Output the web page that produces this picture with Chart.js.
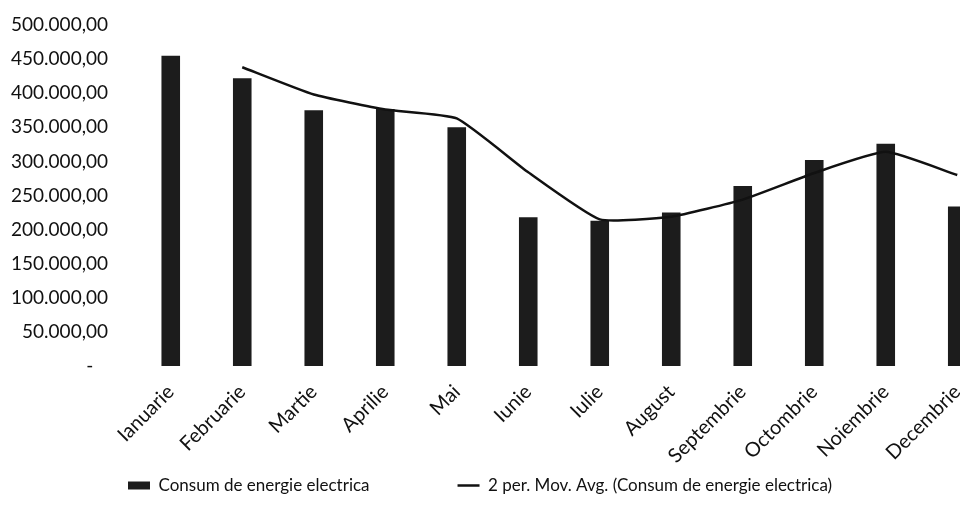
<!DOCTYPE html>
<html>
<head>
<meta charset="utf-8">
<script src="https://cdn.jsdelivr.net/npm/chart.js@4"></script>
<style>
    html, body { margin: 0; padding: 0; background: #fff; overflow: hidden; }
    #wrap { width: 1000px; height: 523px; }
</style>
</head>
<body>
<div id="wrap"><canvas id="consum_chart" width="1000" height="523"></canvas></div>
<script>
const luni = ['Ianuarie', 'Februarie', 'Martie', 'Aprilie', 'Mai', 'Iunie', 'Iulie',
    'August', 'Septembrie', 'Octombrie', 'Noiembrie', 'Decembrie'];
const consum = [455000, 422000, 375000, 377000, 350000, 218000, 213000,
    225000, 264000, 302000, 326000, 234000];
// valori citite de pe linia de tendinta (medie mobila pe 2 perioade)
const medieMobila = [null, 438000, 398000, 376000, 363000, 284000, 215000,
    219000, 244000, 283000, 314000, 280000];

const spatiuLegenda = 88;

function formatRo(v) {
    if (v === 0) return '-   ';
    const parts = v.toFixed(2).split('.');
    return parts[0].replace(/\B(?=(\d{3})+(?!\d))/g, '.') + ',' + parts[1];
}

// legenda ca in Excel: stanga, cu spatiu mare intre elemente
const legendaExcel = {
    id: 'legendaExcel',
    beforeInit(chart) {
        const fit = chart.legend.fit;
        chart.legend.fit = function () {
            fit.call(this);
            this.height = 40;
        };
    },
    afterLayout(chart) {
        chart.legend.left = 128 - spatiuLegenda;
        chart.legend.top = 477 - spatiuLegenda;
        chart.legend.bottom = chart.height;
    }
};

document.addEventListener('DOMContentLoaded', function () {
    const ctx = document.getElementById('consum_chart').getContext('2d');
    Chart.defaults.font.family = 'Lato, "Open Sans", sans-serif';
    Chart.defaults.color = '#111';

    new Chart(ctx, {
        type: 'bar',
        data: {
            labels: luni,
            datasets: [{
                type: 'bar',
                label: 'Consum de energie electrica',
                data: consum,
                backgroundColor: '#1c1c1c',
                borderWidth: 0,
                barPercentage: 0.26,
                categoryPercentage: 1,
                pointStyle: 'rect',
                order: 2
            }, {
                type: 'line',
                label: '2 per. Mov. Avg. (Consum de energie electrica)',
                data: medieMobila,
                borderColor: '#111',
                backgroundColor: '#111',
                borderWidth: 2.5,
                pointRadius: 0,
                tension: 0.15,
                pointStyle: 'line',
                order: 1
            }]
        },
        options: {
            responsive: false,
            animation: false,
            layout: { padding: { left: 2, right: 7, top: 0, bottom: 1 } },
            plugins: {
                legend: {
                    position: 'bottom',
                    align: 'start',
                    labels: {
                        usePointStyle: true,
                        pointStyleWidth: 22,
                        boxHeight: 8,
                        padding: spatiuLegenda,
                        font: { size: 17 },
                        color: '#111',
                        sort: function (a, b) { return a.datasetIndex - b.datasetIndex; }
                    }
                },
                tooltip: { enabled: false }
            },
            scales: {
                x: {
                    grid: { display: false, drawTicks: false },
                    border: { display: false },
                    afterFit: function (scale) { scale.paddingLeft = 0; },
                    ticks: {
                        maxRotation: 45,
                        minRotation: 45,
                        autoSkip: false,
                        padding: 14,
                        font: { size: 20 },
                        color: '#111'
                    }
                },
                y: {
                    min: 0,
                    max: 500000,
                    grid: { display: false, drawTicks: false },
                    border: { display: false },
                    afterFit: function (scale) {
                        scale.width = 133;
                        scale.paddingTop = 25;
                        scale.paddingBottom = 0;
                    },
                    ticks: {
                        stepSize: 50000,
                        padding: 27,
                        font: { size: 19 },
                        color: '#111',
                        callback: function (v) { return formatRo(v); }
                    }
                }
            }
        },
        plugins: [legendaExcel]
    });
});
</script>
</body>
</html>
